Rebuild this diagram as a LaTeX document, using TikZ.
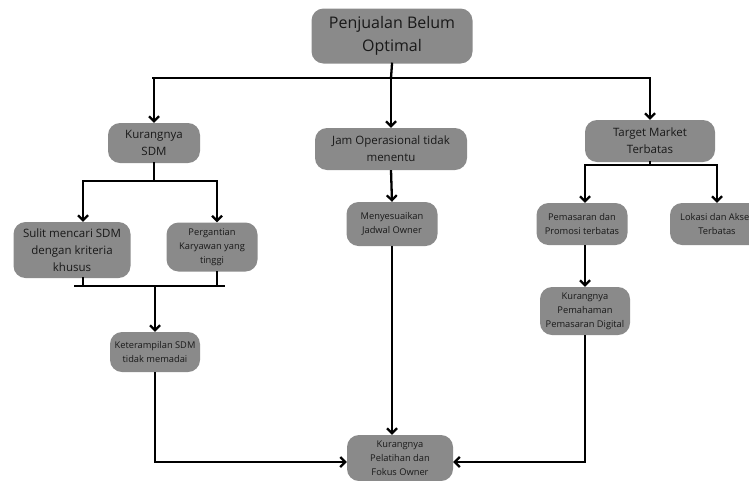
\documentclass[tikz,border=0pt]{standalone}
\usepackage{fontspec}
\setmainfont{Open Sans}
\usetikzlibrary{arrows.meta}
\definecolor{boxgray}{RGB}{138,138,138}
\definecolor{txt}{RGB}{25,25,25}
\tikzset{
  box/.style={fill=boxgray, rounded corners=12pt, align=center, inner sep=0pt, text=txt},
  big/.style={font=\fontsize{16}{23}\selectfont},
  mid/.style={font=\fontsize{11.5}{17}\selectfont},
  sml/.style={font=\fontsize{9.3}{14}\selectfont},
  conn/.style={line width=2.3pt, line cap=rect},
  arr/.style={line width=2.3pt, -{Straight Barb[length=5pt,width=10pt,line width=2.2pt]}}
}
\begin{document}
\begin{tikzpicture}[x=1pt,y=-1pt]
\useasboundingbox (0,0) rectangle (749,480);
\clip (0,0) rectangle (749,480);
% nodes
\node[box,big,minimum width=161pt,minimum height=55pt] (top) at (392,36) {Penjualan Belum\\Optimal};
\node[box,mid,minimum width=92pt,minimum height=40pt] (ksdm) at (154,143) {Kurangnya\\SDM};
\node[box,mid,minimum width=152pt,minimum height=42pt] (jam) at (391,149) {Jam Operasional tidak\\menentu};
\node[box,mid,minimum width=130pt,minimum height=42pt] (tm) at (650,141) {Target Market\\Terbatas};
\node[box,mid,minimum width=117pt,minimum height=56pt] (sulit) at (72,250) {Sulit mencari SDM\\dengan kriteria\\khusus};
\node[box,sml,minimum width=91pt,minimum height=49pt] (perg) at (212,247) {Pergantian\\Karyawan yang\\tinggi};
\node[box,sml,minimum width=90pt,minimum height=40pt] (keter) at (155,352) {Keterampilan SDM\\tidak memadai};
\node[box,sml,minimum width=91pt,minimum height=44pt] (meny) at (392,224) {Menyesuaikan\\Jadwal Owner};
\node[box,sml,minimum width=91pt,minimum height=42pt] (pem) at (582,224) {Pemasaran dan\\Promosi terbatas};
\node[box,sml,minimum width=94pt,minimum height=42pt] (lok) at (717,224) {Lokasi dan Akses\\Terbatas};
\node[box,sml,minimum width=90pt,minimum height=48pt] (kpem) at (585,311) {Kurangnya\\Pemahaman\\Pemasaran Digital};
\node[box,sml,minimum width=106pt,minimum height=46pt] (pel) at (400,458) {Kurangnya\\Pelatihan dan\\Fokus Owner};
% coordinates
\coordinate (hub) at (391,78);
\coordinate (sh) at (154,181);
\coordinate (th) at (650,165);
\coordinate (barL) at (75,286);
\coordinate (barR) at (224,286);
\coordinate (barM) at (155,286);
% connectors
\draw[conn] (top.south) -- (hub);
\draw[conn] (153,78) -- (649,78);
\draw[arr] (hub) -| (ksdm.north);
\draw[arr] (hub) -- (jam.north);
\draw[arr] (hub) -| (tm.north);
\draw[conn] (ksdm.south) -- (sh);
\draw[arr] (sh) -| ([xshift=11pt]sulit.north);
\draw[arr] (sh) -| ([xshift=5pt]perg.north);
\draw[conn] ([xshift=11pt]sulit.south) -- ([xshift=11pt]sulit.south |- barL);
\draw[conn] ([xshift=5pt]perg.south) -- ([xshift=5pt]perg.south |- barR);
\draw[conn] (barL) -- (barR);
\draw[arr] (barM) -- (keter.north);
\draw[arr] (jam.south) -- (meny.north);
\draw[conn] (tm.south) -- (th);
\draw[arr] (th) -| ([xshift=3pt]pem.north);
\draw[arr] (th) -| (lok.north);
\draw[arr] ([xshift=3pt]pem.south) -- (kpem.north);
\draw[arr] (keter.south) |- ([yshift=-4pt]pel.west);
\draw[arr] (kpem.south) |- ([yshift=-4pt]pel.east);
\draw[arr] (meny.south) -- ([xshift=-8pt]pel.north);
\end{tikzpicture}
\end{document}
